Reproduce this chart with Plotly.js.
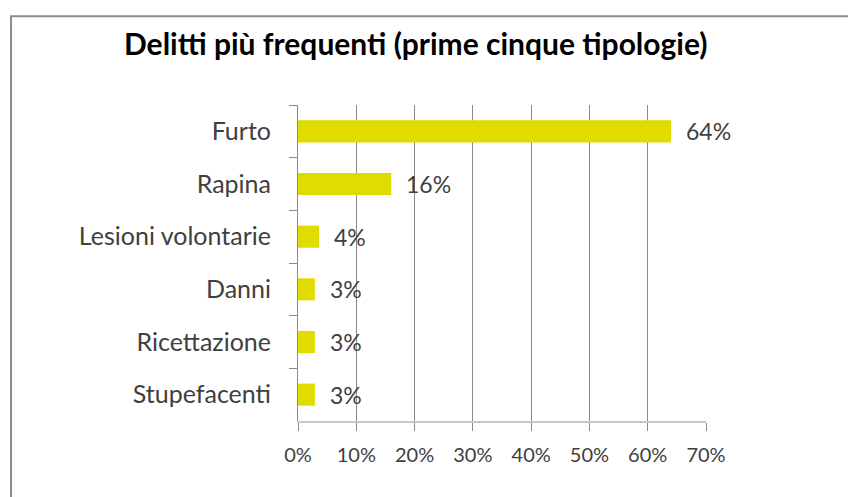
<!DOCTYPE html>
<html><head><meta charset="utf-8">
<script src="https://cdn.plot.ly/plotly-3.0.1.min.js"></script>
<style>html,body{margin:0;padding:0;background:#fff}#chart{width:848px;height:497px}</style>
</head><body><div id="chart"></div>
<script>
const categories = ["Furto","Rapina","Lesioni volontarie","Danni","Ricettazione","Stupefacenti"];
const values = [64, 16, 3.6, 2.9, 2.9, 2.9];
const valueLabels = ["64%","16%","4%","3%","3%","3%"];
const xTickVals = [0,10,20,30,40,50,60,70];
const xTickText = ["0%","10%","20%","30%","40%","50%","60%","70%"];

const font = "Lato, 'Open Sans', sans-serif";
const trace = {
  type: "bar", orientation: "h",
  y: categories, x: values,
  marker: {color: "#E0DC00"},
  width: 0.42,
  hoverinfo: "none"
};
const annotations = categories.map((c,i)=>({
  x: values[i], y: c, xref: "x", yref: "y",
  text: valueLabels[i], showarrow: false,
  xanchor: "left", xshift: 13, yshift: 0,
  font: {family: font, size: 23, color: "#404040"}
}));
annotations.push({
  text: "Delitti più frequenti (prime cinque tipologie)",
  xref: "paper", yref: "paper", x: (415-298)/(706-298), y: (421.5-43)/316.5,
  xanchor: "center", yanchor: "middle", showarrow: false,
  font: {family: font, size: 30, color: "#000", weight: "bold"}
});
const layout = {
  width: 848, height: 497,
  margin: {l: 298, r: 142, t: 105, b: 75.5},
  paper_bgcolor: "#fff", plot_bgcolor: "#fff",
  showlegend: false,
  bargap: 0.58,
  xaxis: {
    range: [0,70], tickvals: xTickVals, ticktext: xTickText,
    showgrid: true, gridcolor: "#8a8a8a", gridwidth: 1,
    zeroline: false,
    showline: true, linecolor: "#c8c8c8", linewidth: 2,
    ticks: "outside", ticklen: 8, tickcolor: "#8a8a8a", tickwidth: 1,
    tickfont: {family: font, size: 20, color: "#404040"},
    ticklabelstandoff: 7,
    fixedrange: true
  },
  yaxis: {
    type: "category", autorange: "reversed",
    tickson: "boundaries",
    showgrid: false, zeroline: false,
    showline: true, linecolor: "#8a8a8a", linewidth: 1,
    ticks: "outside", ticklen: 8, tickcolor: "#8a8a8a", tickwidth: 1,
    tickfont: {family: font, size: 25, color: "#404040"},
    ticklabelstandoff: 21,
    fixedrange: true
  },
  annotations: annotations,
  shapes: [{
    type: "rect", xref: "paper", yref: "paper",
    x0: (11-298)/408, x1: (900-298)/408,
    y0: (421.5-600)/316.5, y1: (421.5-16)/316.5,
    line: {color: "#8c8c8c", width: 2}, layer: "below"
  }]
};
Plotly.newPlot("chart", [trace], layout, {displayModeBar: false, staticPlot: true});
</script></body></html>
